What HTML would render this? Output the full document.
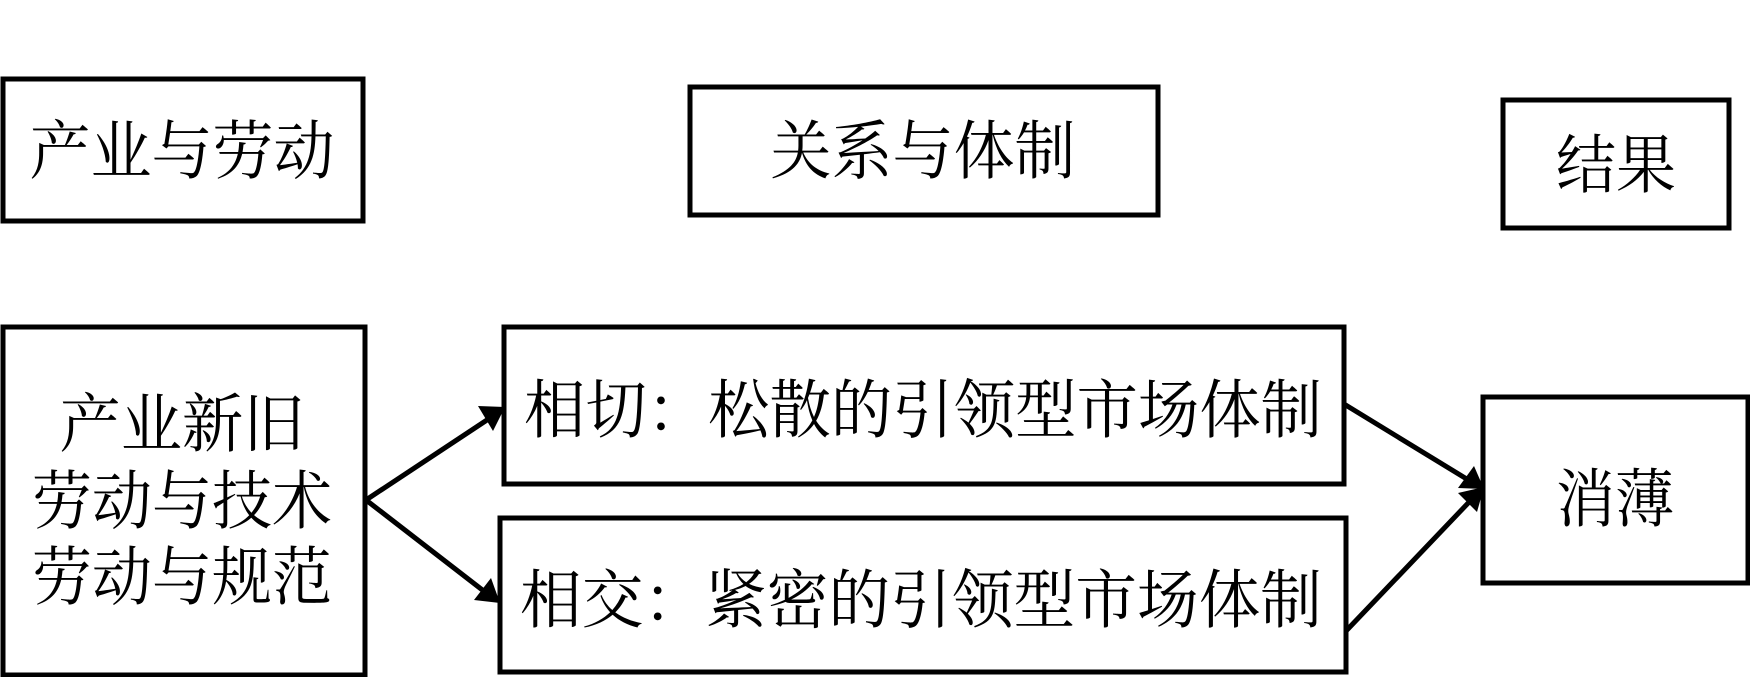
<!DOCTYPE html>
<html><head><meta charset="utf-8"><style>
html,body{margin:0;padding:0;background:#fff;}
svg{display:block;}
text{font-family:"Liberation Serif","Noto Serif CJK SC",serif;fill:#000;}
</style></head><body>
<svg width="1750" height="677" viewBox="0 0 1750 677" xmlns="http://www.w3.org/2000/svg">
<g fill="none" stroke="#000" stroke-width="5">
<rect x="3" y="79" width="360" height="142"/>
<rect x="690" y="87" width="468" height="128"/>
<rect x="1503" y="100" width="226" height="128"/>
<rect x="3" y="327" width="362" height="348"/>
<rect x="504" y="327" width="840" height="157"/>
<rect x="500" y="518" width="846" height="154"/>
<rect x="1483" y="397" width="265" height="186"/>
<line x1="366" y1="500" x2="490" y2="418"/>
<line x1="366" y1="500" x2="485" y2="592"/>
<line x1="1344" y1="404" x2="1470" y2="481"/>
<line x1="1346" y1="631" x2="1472" y2="499"/>
</g>
<g fill="#000">
<polygon points="505,407 478,406 493,431"/>
<polygon points="500,603 491,578 474,600"/>
<polygon points="1484,489 1474,466 1458,488"/>
<polygon points="1484,487 1458,493 1477,512"/>
</g>
<g font-size="64" dominant-baseline="central" text-anchor="middle">
<text x="182" y="152" textLength="305" lengthAdjust="spacingAndGlyphs">产业与劳动</text>
<text x="923" y="152" textLength="305" lengthAdjust="spacingAndGlyphs">关系与体制</text>
<text x="1616" y="166" textLength="120" lengthAdjust="spacingAndGlyphs">结果</text>
<text x="182" y="425" textLength="245" lengthAdjust="spacingAndGlyphs">产业新旧</text>
<text x="182" y="502" textLength="300" lengthAdjust="spacingAndGlyphs">劳动与技术</text>
<text x="182" y="578" textLength="300" lengthAdjust="spacingAndGlyphs">劳动与规范</text>
<text x="923" y="411" textLength="798" lengthAdjust="spacingAndGlyphs">相切：松散的引领型市场体制</text>
<text x="921" y="601" textLength="802" lengthAdjust="spacingAndGlyphs">相交：紧密的引领型市场体制</text>
<text x="1615" y="500" textLength="118" lengthAdjust="spacingAndGlyphs">消薄</text>
</g>
</svg>
</body></html>
